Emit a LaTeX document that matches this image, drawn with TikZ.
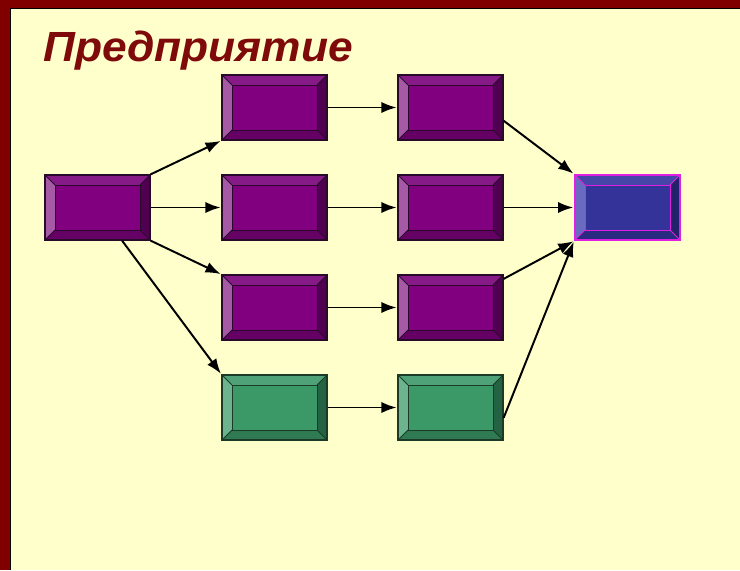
\documentclass[tikz,border=0pt]{standalone}
\usepackage{fontspec}
\setmainfont{Liberation Sans}
\usetikzlibrary{arrows.meta,positioning,calc}
\definecolor{framered}{HTML}{800000}
\definecolor{bgyellow}{HTML}{FFFFCC}
\definecolor{titlered}{HTML}{7F0A0A}
\newcommand{\bevw}{0.25cm}
\tikzset{bevelbox/.style n args={6}{rectangle, minimum width=2.625cm, minimum height=1.625cm, inner sep=0pt, fill=#1, draw=#6, line width=0.9pt,
  path picture={
    \fill[#2] (path picture bounding box.north west) -- (path picture bounding box.north east) -- ([shift={(-\bevw,-\bevw)}]path picture bounding box.north east) -- ([shift={(\bevw,-\bevw)}]path picture bounding box.north west) -- cycle;
    \fill[#4] (path picture bounding box.north east) -- (path picture bounding box.south east) -- ([shift={(-\bevw,\bevw)}]path picture bounding box.south east) -- ([shift={(-\bevw,-\bevw)}]path picture bounding box.north east) -- cycle;
    \fill[#5] (path picture bounding box.south east) -- (path picture bounding box.south west) -- ([shift={(\bevw,\bevw)}]path picture bounding box.south west) -- ([shift={(-\bevw,\bevw)}]path picture bounding box.south east) -- cycle;
    \fill[#3] (path picture bounding box.south west) -- (path picture bounding box.north west) -- ([shift={(\bevw,-\bevw)}]path picture bounding box.north west) -- ([shift={(\bevw,\bevw)}]path picture bounding box.south west) -- cycle;
    \draw[#6, line width=0.6pt] ([shift={(\bevw,-\bevw)}]path picture bounding box.north west) rectangle ([shift={(-\bevw,\bevw)}]path picture bounding box.south east);
    \draw[#6, line width=0.6pt] (path picture bounding box.north west) -- ++(\bevw,-\bevw)
      (path picture bounding box.north east) -- ++(-\bevw,-\bevw)
      (path picture bounding box.south east) -- ++(-\bevw,\bevw)
      (path picture bounding box.south west) -- ++(\bevw,\bevw);
  }}}
\tikzset{purplebox/.style={bevelbox={HTML800080}{HTML861A86}{HTMLA65AA6}{HTML500050}{HTML650065}{HTML2A0A2A}}}
\tikzset{greenbox/.style={bevelbox={HTML3A9966}{HTML4FA277}{HTML6DB38E}{HTML246244}{HTML2F7A52}{HTML1C3A28}}}
\tikzset{bluebox/.style={bevelbox={HTML333399}{HTML4646A8}{HTML6A6AC0}{HTML22226A}{HTML2A2A80}{HTMLE020E0}}}
\definecolor{HTML800080}{HTML}{800080}
\definecolor{HTML861A86}{HTML}{861A86}
\definecolor{HTMLA65AA6}{HTML}{A65AA6}
\definecolor{HTML500050}{HTML}{500050}
\definecolor{HTML650065}{HTML}{650065}
\definecolor{HTML2A0A2A}{HTML}{2A0A2A}
\definecolor{HTML3A9966}{HTML}{3A9966}
\definecolor{HTML4FA277}{HTML}{4FA277}
\definecolor{HTML6DB38E}{HTML}{6DB38E}
\definecolor{HTML246244}{HTML}{246244}
\definecolor{HTML2F7A52}{HTML}{2F7A52}
\definecolor{HTML1C3A28}{HTML}{1C3A28}
\definecolor{HTML333399}{HTML}{333399}
\definecolor{HTML4646A8}{HTML}{4646A8}
\definecolor{HTML6A6AC0}{HTML}{6A6AC0}
\definecolor{HTML22226A}{HTML}{22226A}
\definecolor{HTML2A2A80}{HTML}{2A2A80}
\definecolor{HTMLE020E0}{HTML}{E020E0}

\begin{document}
\begin{tikzpicture}[x=0.025cm, y=-0.025cm]
	\useasboundingbox (0,0) rectangle (740,570);
	% frame and background
	\fill[framered] (0,0) rectangle (740,570);
	\fill[bgyellow] (11,9) rectangle (740,570);
	\draw[black, line width=0.8pt] (10.5,570) -- (10.5,8.5) -- (740,8.5);

	\node[anchor=base west, text=titlered, font=\fontsize{30}{30}\selectfont\bfseries\itshape, xscale=1.05] (title) at (38,62) {Предприятие};

	\node[purplebox] (S) at (97.5,207.5) {};
	\node[purplebox] (p1) at (274.5,107.5) {};
	\node[purplebox] (p2) at (274.5,207.5) {};
	\node[purplebox] (p3) at (274.5,307.5) {};
	\node[greenbox] (g1) at (274.5,407.5) {};
	\node[purplebox] (q1) at (450.5,107.5) {};
	\node[purplebox] (q2) at (450.5,207.5) {};
	\node[purplebox] (q3) at (450.5,307.5) {};
	\node[greenbox] (g2) at (450.5,407.5) {};
	\node[bluebox, line width=1.4pt] (T) at (627.5,207.5) {};

	\begin{scope}[-{Latex[length=3.8mm,width=2.8mm]}, line width=1.4pt, shorten >=0.5pt]
		\draw (S.north east) -- (p1.south west);
		\draw (S) -- (p2);
		\draw (S.south east) -- (p3.north west);
		\draw (S) -- (g1.north west);
		\draw (p1) -- (q1);
		\draw (p2) -- (q2);
		\draw (p3) -- (q3);
		\draw (g1) -- (g2);
		\draw (q1.-14) -- (T.north west);
		\draw (q2) -- (T);
		\draw (q3) -- (T.south west);
		\draw (g2.-11) -- (T.south west);
	\end{scope}
\end{tikzpicture}
\end{document}
